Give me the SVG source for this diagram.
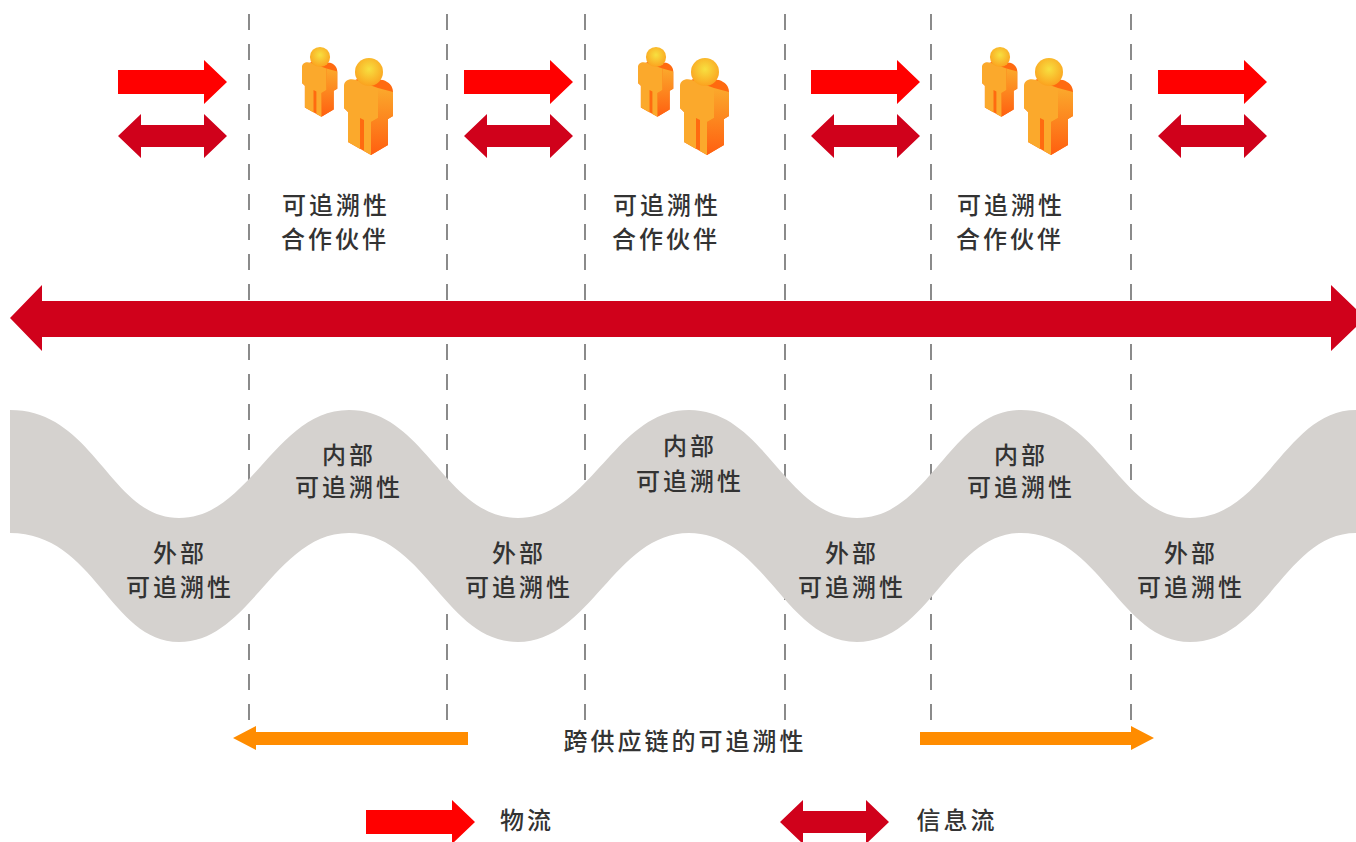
<svg xmlns="http://www.w3.org/2000/svg" xmlns:xlink="http://www.w3.org/1999/xlink" width="1356" height="842" viewBox="0 0 1356 842">
<style>
.dash{stroke:#6e6e6e;stroke-width:1.6;stroke-dasharray:16 14;fill:none}
.lbl{font-family:"Noto Sans CJK SC","Liberation Sans",sans-serif;font-size:24px;fill:#333;letter-spacing:3px;text-anchor:middle;font-weight:500}
.red{fill:#ff0000}.dark{fill:#d0011b}.orange{fill:#ff8c00}
</style>
<defs>
<radialGradient id="head" cx="0.5" cy="0.4" r="0.6"><stop offset="0" stop-color="#f7e040"/><stop offset="1" stop-color="#fba21f"/></radialGradient>
<linearGradient id="side" x1="0" y1="0" x2="0" y2="1"><stop offset="0" stop-color="#fba92c"/><stop offset="1" stop-color="#ff5f10"/></linearGradient>
<path id="flow" d="M0 10H86V0L109 22 86 44V34H0Z"/>
<path id="info" d="M0 22 23 0V11H86V0L109 22 86 44V33H23V44Z"/>
<g id="person">
<path fill="#ff6a10" d="M-25 14-10 6 14 8C20 10 24 14 24 20V44L19 47V73L2 83-21 70V40L-25 36Z"/>
<path fill="url(#side)" d="M9 16 24 20V44L19 47V73L2 83V50L9 46Z"/>
<path fill="#fba92c" d="M-25 14C-25 8-19 6-13 8L9 16V46L2 50V83L-5 79V48L-9 46V77L-21 70V40L-25 36Z"/>
<circle cx="0" cy="0" r="14" fill="url(#head)"/>
</g>
<g id="people">
<use xlink:href="#person" transform="translate(320 57) scale(.72)"/>
<use xlink:href="#person" transform="translate(369 72)"/>
</g>
</defs>
<g id="connectors">
<path class="dash" d="M249 14V722"/>
<path class="dash" d="M447 14V722"/>
<path class="dash" d="M585 14V722"/>
<path class="dash" d="M785 14V722"/>
<path class="dash" d="M931 14V722"/>
<path class="dash" d="M1131 14V722"/>
<use id="flow-1" xlink:href="#flow" class="red" x="118" y="60"/>
<use id="flow-2" xlink:href="#flow" class="red" x="464" y="60"/>
<use id="flow-3" xlink:href="#flow" class="red" x="811" y="60"/>
<use id="flow-4" xlink:href="#flow" class="red" x="1158" y="60"/>
<use id="info-1" xlink:href="#info" class="dark" x="118" y="114"/>
<use id="info-2" xlink:href="#info" class="dark" x="464" y="114"/>
<use id="info-3" xlink:href="#info" class="dark" x="811" y="114"/>
<use id="info-4" xlink:href="#info" class="dark" x="1158" y="114"/>
<path id="main-axis" class="dark" d="M10 318 42 285V301H1331V285L1356 309V327L1331 351V337H42V351Z"/>
<path id="cross-left" class="orange" d="M233 738 256 726V732H468V745H256V750Z"/>
<path id="cross-right" class="orange" d="M920 732H1131V726L1154 738 1131 750V745H920Z"/>
</g>
<path id="wave" fill="#d5d2cf" d="M10 410C95 410 110 518 179 518C250 518 275 410 349 410C425 410 445 518 518 518C590 518 615 410 689 410C765 410 785 518 857 518C930 518 950 410 1021 410C1100 410 1120 518 1190 518C1265 518 1285 410 1356 410V533C1285 533 1265 642 1190 642C1120 642 1100 533 1021 533C950 533 930 642 857 642C785 642 765 533 689 533C615 533 590 642 518 642C445 642 425 533 349 533C275 533 250 642 179 642C110 642 95 533 10 533Z"/>
<g id="partner-1"><use xlink:href="#people"/><text class="lbl" x="336" y="214">可追溯性</text><text class="lbl" x="335" y="248">合作伙伴</text></g>
<g id="partner-2"><use xlink:href="#people" x="336"/><text class="lbl" x="667" y="214">可追溯性</text><text class="lbl" x="666" y="248">合作伙伴</text></g>
<g id="partner-3"><use xlink:href="#people" x="680"/><text class="lbl" x="1011" y="214">可追溯性</text><text class="lbl" x="1010" y="248">合作伙伴</text></g>
<g id="ext-1"><text class="lbl" x="180" y="562">外部</text><text class="lbl" x="180" y="596">可追溯性</text></g>
<g id="int-1"><text class="lbl" x="349" y="464">内部</text><text class="lbl" x="349" y="496">可追溯性</text></g>
<g id="ext-2"><text class="lbl" x="519" y="562">外部</text><text class="lbl" x="519" y="596">可追溯性</text></g>
<g id="int-2"><text class="lbl" x="690" y="455">内部</text><text class="lbl" x="690" y="490">可追溯性</text></g>
<g id="ext-3"><text class="lbl" x="852" y="562">外部</text><text class="lbl" x="852" y="596">可追溯性</text></g>
<g id="int-3"><text class="lbl" x="1021" y="464">内部</text><text class="lbl" x="1021" y="496">可追溯性</text></g>
<g id="ext-4"><text class="lbl" x="1191" y="562">外部</text><text class="lbl" x="1191" y="596">可追溯性</text></g>
<g id="cross-label"><text class="lbl" x="685" y="750">跨供应链的可追溯性</text></g>
<g id="legend-flow"><use xlink:href="#flow" class="red" x="366" y="800"/><text class="lbl" x="527" y="829">物流</text></g>
<g id="legend-info"><use xlink:href="#info" class="dark" x="780" y="800"/><text class="lbl" x="957" y="829">信息流</text></g>
</svg>
